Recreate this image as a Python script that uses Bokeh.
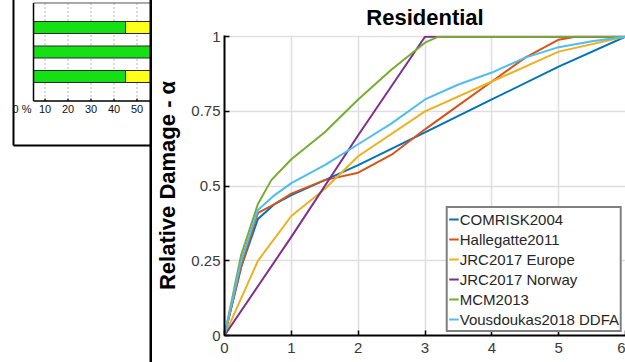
from bokeh.plotting import figure
from bokeh.layouts import row
from bokeh.models import FixedTicker
from bokeh.embed import file_html
from bokeh.resources import INLINE

FONT = "Liberation Sans"

# ---------------- main chart data (depth in m vs relative damage) ----------------
comrisk_x = [0, 0.25, 0.5, 0.75, 1.0, 1.5, 2.0, 3.0, 4.0, 5.0, 6.0]
comrisk_y = [0, 0.23, 0.39, 0.44, 0.47, 0.52, 0.57, 0.68, 0.79, 0.90, 1.0]

hallegatte_x = [0, 0.25, 0.5, 0.75, 1.0, 1.5, 2.0, 2.5, 3.0, 3.5, 4.0, 4.5, 5.0, 5.25, 6.0]
hallegatte_y = [0, 0.23, 0.41, 0.44, 0.475, 0.52, 0.545, 0.605, 0.69, 0.77, 0.85, 0.93, 0.99, 1.0, 1.0]

jrc_eu_x = [0, 0.5, 1.0, 1.5, 2.0, 3.0, 4.0, 5.0, 6.0]
jrc_eu_y = [0, 0.25, 0.40, 0.49, 0.60, 0.75, 0.85, 0.95, 1.0]

jrc_no_x = [0, 1.0, 2.0, 3.0, 6.0]
jrc_no_y = [0, 0.33, 0.67, 1.0, 1.0]

mcm_x = [0, 0.25, 0.5, 0.7, 1.0, 1.5, 2.0, 2.5, 3.0, 3.2, 6.0]
mcm_y = [0, 0.27, 0.44, 0.52, 0.59, 0.68, 0.79, 0.89, 0.98, 1.0, 1.0]

vous_x = [0, 0.25, 0.5, 0.75, 1.0, 1.5, 2.0, 2.5, 3.0, 3.5, 4.0, 4.5, 5.0, 5.5, 6.0]
vous_y = [0, 0.25, 0.42, 0.47, 0.51, 0.57, 0.64, 0.71, 0.79, 0.84, 0.88, 0.93, 0.965, 0.985, 1.0]

series_names = ["COMRISK2004", "Hallegatte2011", "JRC2017 Europe",
                "JRC2017 Norway", "MCM2013", "Vousdoukas2018 DDFA"]
series_x = [comrisk_x, hallegatte_x, jrc_eu_x, jrc_no_x, mcm_x, vous_x]
series_y = [comrisk_y, hallegatte_y, jrc_eu_y, jrc_no_y, mcm_y, vous_y]
series_colors = ["#0072BD", "#D95319", "#EDB120", "#7E2F8E", "#77AC30", "#4DBEEE"]

x_ticks = [0, 1, 2, 3, 4, 5, 6]
y_ticks = [0.0, 0.25, 0.5, 0.75, 1.0]
y_tick_labels = ["0", "0.25", "0.5", "0.75", "1"]

# ---------------- left fragment (stacked % bars) data ----------------
bar_rows = [3, 2, 1]
green_end = [45, 100, 45]
yellow_rows = [3, 1]
yellow_start = [45, 45]
yellow_end = [100, 100]
pct_ticks = [0, 10, 20, 30, 40, 50]
pct_labels = ["0 %", "10", "20", "30", "40", "50"]
pct_grid = [10, 20, 30, 40, 50]

# ---------------- left fragment figure ----------------
# The row aligns this frame with the main frame; marks are drawn on the
# overlay level (as unculled segments) so they can extend past that frame.
lp = figure(width=152, height=362, x_range=(-9.35, 56.74), y_range=(-9.571, 2.673),
            output_backend="svg", toolbar_location=None, title=None,
            x_axis_type=None, y_axis_type=None,
            min_border_left=0, min_border_right=0, min_border_top=0, min_border_bottom=0)
lp.grid.visible = False
lp.outline_line_color = None
lp.background_fill_color = "white"
lp.border_fill_color = "white"

LV = "overlay"
axis_min = 5
half_h = 0.245
bar_px = 12

lp.segment(x0=pct_grid, y0=0, x1=pct_grid, y1=4, line_color="#b8b8b8",
           line_dash="2 2", line_width=1, level=LV)
# bar fills
lp.segment(x0=[axis_min] * len(bar_rows), y0=bar_rows, x1=green_end, y1=bar_rows,
           line_color="#14e014", line_width=bar_px, line_cap="butt", level=LV)
lp.segment(x0=yellow_start, y0=yellow_rows, x1=yellow_end, y1=yellow_rows,
           line_color="#ffff1a", line_width=bar_px, line_cap="butt", level=LV)
# bar outlines
edge_x0, edge_y0, edge_x1, edge_y1 = [], [], [], []
for r, e in zip(bar_rows, green_end):
    for yy in (r - half_h, r + half_h):
        edge_x0.append(axis_min); edge_y0.append(yy); edge_x1.append(100); edge_y1.append(yy)
    edge_x0.append(axis_min); edge_y0.append(r - half_h); edge_x1.append(axis_min); edge_y1.append(r + half_h)
for r, s in zip(yellow_rows, yellow_start):
    edge_x0.append(s); edge_y0.append(r - half_h); edge_x1.append(s); edge_y1.append(r + half_h)
lp.segment(x0=edge_x0, y0=edge_y0, x1=edge_x1, y1=edge_y1, line_color="#2a2a2a",
           line_width=1, level=LV)
# inner axes and box
lp.segment(x0=[axis_min, axis_min], y0=[0, 0], x1=[axis_min, 100], y1=[4, 0],
           line_color="black", line_width=1.5, level=LV)
lp.segment(x0=[axis_min], y0=[4], x1=[100], y1=[4], line_color="#555555",
           line_width=1, level=LV)
lp.segment(x0=pct_grid, y0=0, x1=pct_grid, y1=0.1, line_color="black",
           line_width=1.2, level=LV)
lp.text(x=pct_ticks, y=-0.31, text=pct_labels, text_align="center",
        text_baseline="middle", text_font_size="11px", text_color="#111111",
        text_font={"value": FONT}, level=LV)
# outer frame of the fragment
box_left, box_bottom, box_right = -3.7, -1.816, 56.09
lp.segment(x0=[box_left, box_left], y0=[5, box_bottom], x1=[box_left, box_right],
           y1=[box_bottom, box_bottom], line_color="black", line_width=2, level=LV)
lp.segment(x0=[box_right], y0=[-11], x1=[box_right], y1=[5], line_color="black",
           line_width=3, level=LV)

# ---------------- main figure ----------------
p = figure(width=473, height=362, x_range=(0, 6), y_range=(0, 1.004),
           output_backend="svg", toolbar_location=None,
           min_border_left=71, min_border_right=0, min_border_top=0, min_border_bottom=27)
p.title.text = "Residential"
p.title.align = "center"
p.title.vertical_align = "top"
p.title.text_font = FONT
p.title.text_font_size = "22px"
p.title.text_font_style = "bold"
p.title.text_color = "black"
p.title.standoff = 8
p.title.offset = 0

p.outline_line_color = None
p.background_fill_color = "white"
p.border_fill_color = "white"

for name, xs, ys, col in zip(series_names, series_x, series_y, series_colors):
    p.line(xs, ys, line_color=col, line_width=2, line_join="round", legend_label=name)

p.xaxis.ticker = FixedTicker(ticks=x_ticks)
p.yaxis.ticker = FixedTicker(ticks=y_ticks)
p.yaxis.major_label_overrides = {float(t): l for t, l in zip(y_ticks, y_tick_labels)}
for ax in (p.xaxis[0], p.yaxis[0]):
    ax.axis_line_color = "black"
    ax.axis_line_width = 2
    ax.major_tick_in = 5
    ax.major_tick_out = 0
    ax.minor_tick_line_color = None
    ax.major_tick_line_color = "black"
    ax.major_tick_line_width = 1.5
    ax.major_label_text_font = FONT
    ax.major_label_text_font_size = "15px"
    ax.major_label_text_color = "#3a3a3a"
p.xaxis.major_label_standoff = 7
p.yaxis.major_label_standoff = 4
p.yaxis.axis_label = "Relative Damage - α"
p.yaxis.axis_label_text_font = FONT
p.yaxis.axis_label_text_font_size = "22px"
p.yaxis.axis_label_text_font_style = "bold"
p.yaxis.axis_label_text_color = "black"
p.yaxis.axis_label_standoff = 8

p.grid.grid_line_color = "#dedede"
p.grid.grid_line_width = 1.5
p.xgrid.ticker = FixedTicker(ticks=x_ticks)
p.ygrid.ticker = FixedTicker(ticks=y_ticks)

lg = p.legend[0]
lg.location = "bottom_right"
lg.margin = 3
lg.padding = 1
lg.spacing = 0
lg.label_height = 20
lg.glyph_height = 20
lg.glyph_width = 10
lg.label_standoff = 1
lg.label_text_font = FONT
lg.label_text_font_size = "15px"
lg.label_text_color = "#262626"
lg.border_line_color = "black"
lg.border_line_width = 2
lg.background_fill_color = "white"
lg.background_fill_alpha = 1

layout = row(lp, p)
open("out.html", "w").write(file_html(layout, INLINE))
